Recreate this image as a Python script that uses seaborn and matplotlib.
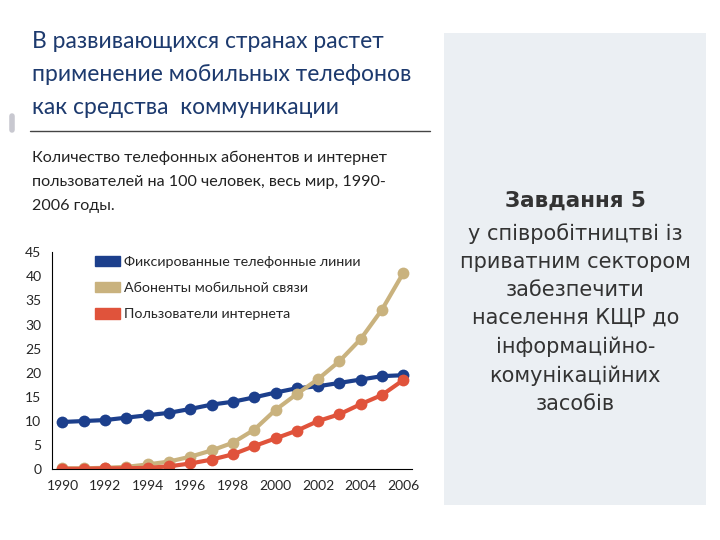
import pandas as pd
import seaborn as sns
from matplotlib import pyplot as plt
from matplotlib.patches import Rectangle

years = list(range(1990, 2007))
fixed_lines = [9.8, 10.0, 10.2, 10.7, 11.2, 11.7, 12.5, 13.4, 14.0, 14.9, 15.9, 16.8, 17.2, 17.9, 18.6, 19.3, 19.5]
mobile = [0.2, 0.2, 0.3, 0.5, 1.0, 1.6, 2.6, 3.9, 5.5, 8.2, 12.3, 15.6, 18.7, 22.4, 27.0, 33.1, 40.7]
internet = [0.1, 0.1, 0.2, 0.2, 0.3, 0.6, 1.2, 2.0, 3.1, 4.8, 6.4, 8.0, 10.0, 11.4, 13.5, 15.4, 18.5]
series_names = ['Фиксированные телефонные линии', 'Абоненты мобильной связи', 'Пользователи интернета']
colors = ['#1c3f8c', '#c9b27e', '#e0533b']
y_ticks = [0, 5, 10, 15, 20, 25, 30, 35, 40, 45]

df = pd.DataFrame({'year': years * 3,
                   'value': fixed_lines + mobile + internet,
                   'series': [s for s in series_names for _ in years]})

sns.set_style('white')
plt.rcParams['font.family'] = ['Lato', 'DejaVu Sans']

fig = plt.figure(figsize=(7.2, 5.4), dpi=100)

# right panel
fig.patches.append(Rectangle((0.617, 0.065), 0.364, 0.874, transform=fig.transFigure,
                             facecolor='#ebeff3', edgecolor='none', zorder=0))
fig.text(0.799, 0.628, 'Завдання 5', ha='center', va='center', fontsize=15.5,
         fontweight='bold', color='#333333', family=['DejaVu Sans'])
body = 'у співробітництві із\nприватним сектором\nзабезпечити\nнаселення КЩР до\nінформаційно-\nкомунікаційних\nзасобів'
fig.text(0.799, 0.410, body, ha='center', va='center', fontsize=15, color='#333333',
         linespacing=1.51, family=['DejaVu Sans'])

# title and subtitle
fig.text(0.044, 0.943, 'В развивающихся странах растет\nприменение мобильных телефонов\nкак средства  коммуникации',
         ha='left', va='top', fontsize=16.5, color='#1d3a6e', linespacing=1.7)
fig.add_artist(plt.Line2D([0.042, 0.597], [0.757, 0.757], color='#444444', lw=1))
fig.add_artist(plt.Line2D([0.017, 0.017], [0.76, 0.785], color='#c8c8d0', lw=4))
fig.text(0.044, 0.720, 'Количество телефонных абонентов и интернет\nпользователей на 100 человек, весь мир, 1990-\n2006 годы.',
         ha='left', va='top', fontsize=11.6, color='#222222', linespacing=1.9)

ax = fig.add_axes([0.072, 0.131, 0.5, 0.402])
sns.lineplot(data=df, x='year', y='value', hue='series', palette=colors, marker='o',
             markersize=8.5, markeredgewidth=0, linewidth=3, ax=ax, legend=False)

ax.set_xlim(1989.5, 2006.4)
ax.set_ylim(0, 45)
ax.set_yticks(y_ticks)
ax.set_xticks(years, minor=True)
ax.set_xticks(years[::2])
ax.tick_params(axis='both', which='both', direction='out', length=4, width=1,
               labelsize=10, color='black')
ax.set_xlabel('')
ax.set_ylabel('')
sns.despine(ax=ax)
for s in ['left', 'bottom']:
    ax.spines[s].set_color('black')

handles = [Rectangle((0, 0), 1, 1, color=c) for c in colors]
ax.legend(handles, series_names, loc='upper left', bbox_to_anchor=(0.085, 1.044), frameon=False,
          fontsize=10.3, handlelength=1.7, handleheight=0.8, labelspacing=0.95, handletextpad=0.3)

fig.savefig('out.png', dpi=100)
